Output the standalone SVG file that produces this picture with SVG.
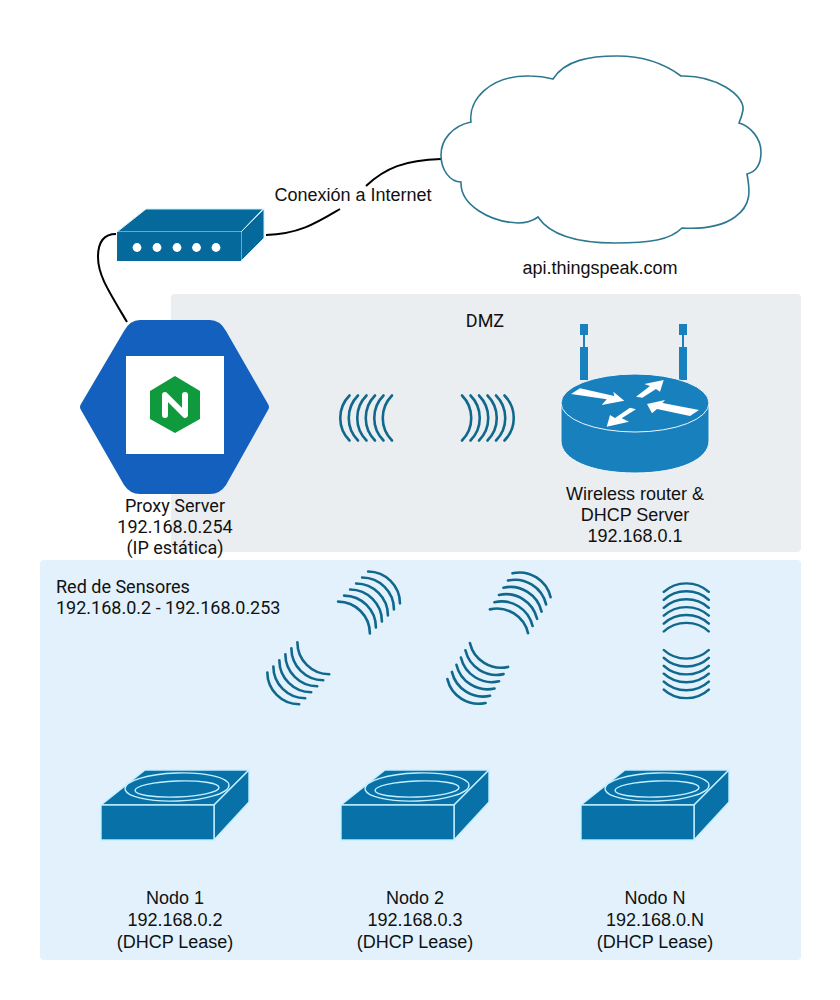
<svg xmlns="http://www.w3.org/2000/svg" width="840" height="1000" viewBox="0 0 840 1000">
<style>
text{font-family:"Liberation Sans",Arial,sans-serif;font-size:18px;fill:#111;text-anchor:middle}
.r{font-family:"Roboto","Liberation Sans",sans-serif}
.l{text-anchor:start}
.w{fill:none;stroke:#10688c;stroke-width:2.6;stroke-linecap:round}
.c{fill:none;stroke:#000;stroke-width:2}
.b{fill:#0871a8;stroke:#c4f0ff;stroke-width:1.4;stroke-linejoin:round}
.e{fill:none;stroke:#c4f0ff;stroke-width:1.4}
</style>
<defs>
<g id="arcs">
<path class="w" d="M0 -22.5A32 32 0 0 0 0 22.5"/>
<path class="w" d="M-8.5 -22.5A32 32 0 0 0 -8.5 22.5"/>
<path class="w" d="M-17 -22.5A32 32 0 0 0 -17 22.5"/>
<path class="w" d="M-25.5 -22.5A32 32 0 0 0 -25.5 22.5"/>
<path class="w" d="M-34 -22.5A32 32 0 0 0 -34 22.5"/>
<path class="w" d="M-42.500 -22.5A32 32 0 0 0 -42.500 22.5"/>
</g>
<g id="node">
<path class="b" d="M0 36L44 1H148L113 36Z"/>
<path class="b" d="M113 36L148 1V33L113 71Z"/>
<rect x="0" y="36" width="113" height="35" fill="#0871a8" stroke="#c4f0ff" stroke-width="1.4"/>
<ellipse class="e" cx="76" cy="18" rx="52" ry="14" transform="rotate(-2 76 18)"/>
<ellipse class="e" cx="76" cy="20" rx="42" ry="8" transform="rotate(-2 76 20)"/>
</g>
</defs>
<rect width="840" height="1000" fill="#fff"/>
<rect x="171" y="294" width="630" height="258" rx="4" fill="#ebeef1"/>
<rect x="40" y="560" width="761" height="400" rx="4" fill="#e2f1fb"/>
<g id="connectors">
<path class="c" d="M116 234C104 234 98 242 98 257C98 275 108 290 127 322"/>
<path class="c" d="M266 235C300 234 318 222 340 209"/>
<path class="c" d="M366 186C385 168 405 160 441 159"/>
</g>
<g id="cloud">
<path d="M471 122C468 100 490 75 530 76Q542 76 553 79C565 60 590 56 617 56C645 56 665 64 681 76C715 75 745 95 743 110Q742 116 739 123C750 126 761 138 761 152C761 165 755 172 747 174C750 190 752 205 735 217C720 228 700 229 682 228C670 240 650 243 615 243C575 243 550 235 538 217Q530 223 518 223C490 222 460 205 461 182C450 182 441 170 441 155C441 140 452 126 471 122Z" fill="#fff" stroke="#2c7890" stroke-width="1.6"/>
</g>
<g id="modem">
<path d="M117 232L146 209H263L241 232Z" fill="#05699c" stroke="#c4f0ff" stroke-width="1"/>
<path d="M241 232L264 209V238L241 261Z" fill="#05699c" stroke="#c4f0ff" stroke-width="1"/>
<rect x="117" y="232" width="124" height="29" fill="#05699c"/>
<g fill="#fff"><circle cx="137" cy="247.5" r="4.4"/><circle cx="157" cy="247.5" r="4.4"/><circle cx="177" cy="247.5" r="4.4"/><circle cx="196.500" cy="247.500" r="4.4"/><circle cx="216" cy="247.5" r="4.4"/></g>
</g>
<g id="proxy">
<path d="M81 404Q79 407 81 410L124 485Q130 494 140 494H210Q220 494 226 485L268 410Q270 407 268 404L226 331Q220 320 210 320H140Q130 320 124 331Z" fill="#1360bf"/>
<rect x="126" y="356" width="98" height="98" fill="#fff"/>
<path d="M175 376L200 391V419L175 433L150 419V391Z" fill="#0f9a3e"/>
<path d="M165 415V395L185 415V395" fill="none" stroke="#fff" stroke-width="6" stroke-linejoin="round" stroke-linecap="round"/>
<text class="r" x="175" y="512">Proxy Server</text><text class="r" x="175" y="533">192.168.0.254</text><text class="r" x="175" y="554">(IP estática)</text>
</g>
<g id="dmz-waves">
<use href="#arcs" transform="translate(392 418)"/>
<use href="#arcs" transform="translate(462 418) scale(-1 1)"/>
</g>
<g id="router">
<rect x="580" y="324" width="8" height="11" fill="#1880bc"/><rect x="583" y="335" width="2" height="12" fill="#1880bc"/><rect x="580" y="347" width="8" height="33" fill="#1880bc"/>
<rect x="679" y="324" width="8" height="11" fill="#1880bc"/><rect x="682" y="335" width="2" height="12" fill="#1880bc"/><rect x="679" y="347" width="8" height="33" fill="#1880bc"/>
<path d="M561 403V441C561 459 590 473 635 473C680 473 709 459 709 441V403Z" fill="#1880bc" stroke="#eef6fb" stroke-width="1"/>
<ellipse cx="635" cy="403" rx="74" ry="29" fill="#1880bc" stroke="#eef6fb" stroke-width="1"/>
<g fill="#fff">
<path d="M571 394L580 388.300L614.300 396L613.300 391.700L624.300 400.700L601.700 405L606.700 399.300Z"/>
<path d="M636 396.700L650 386L644.300 384L663.700 380L660 391.700L656 389L642.300 397.700Z"/>
<path d="M647 404L665 400L662.500 403L699 410L690 416L657 409L652 413.300Z"/>
<path d="M606.700 426.700L610 415L615 418L630 407.700L636 409.300L621.700 418.300L629 421.700Z"/>
</g>
<text x="635" y="499.5">Wireless router &amp;</text><text x="635" y="521">DHCP Server</text><text x="635" y="542">192.168.0.1</text>
</g>
<g id="sensor-waves">
<use href="#arcs" transform="translate(354 617.500) rotate(135)"/>
<use href="#arcs" transform="translate(313.300 658.300) rotate(-45)"/>
<use href="#arcs" transform="translate(509 621.300) rotate(122)"/>
<use href="#arcs" transform="translate(489 655) rotate(-58)"/>
<use href="#arcs" transform="translate(686.300 631.500) rotate(90) scale(.93 1)"/>
<use href="#arcs" transform="translate(686.300 650) rotate(-90) scale(.93 1)"/>
</g>
<g id="nodo1"><use href="#node" transform="translate(101 769)"/><text x="175" y="904">Nodo 1</text><text x="175" y="926">192.168.0.2</text><text x="175" y="948">(DHCP Lease)</text></g>
<g id="nodo2"><use href="#node" transform="translate(341 769)"/><text x="415" y="904">Nodo 2</text><text x="415" y="926">192.168.0.3</text><text x="415" y="948">(DHCP Lease)</text></g>
<g id="nodoN"><use href="#node" transform="translate(581 769)"/><text x="655" y="904">Nodo N</text><text x="655" y="926">192.168.0.N</text><text x="655" y="948">(DHCP Lease)</text></g>
<text x="353" y="201">Conexión a Internet</text>
<text x="600" y="274">api.thingspeak.com</text>
<text class="r" x="485" y="327">DMZ</text>
<text class="l r" x="56" y="593">Red de Sensores</text>
<text class="l r" x="56" y="614">192.168.0.2 - 192.168.0.253</text>
</svg>
